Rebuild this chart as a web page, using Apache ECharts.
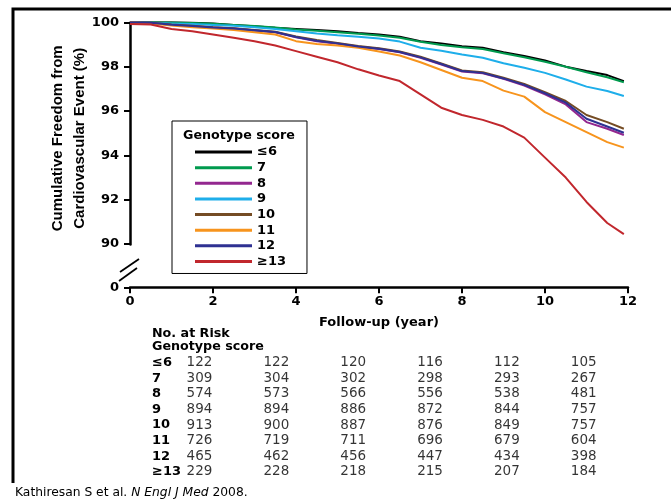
<!DOCTYPE html>
<html><head><meta charset="utf-8">
<script src="https://cdn.jsdelivr.net/npm/echarts@6/dist/echarts.min.js"></script>
<style>html,body{margin:0;padding:0;background:#fff}#c{width:671px;height:499px}</style>
</head><body><div id="c"></div>
<script>
// ---- data ----
const years = [0,0.5,1,1.5,2,2.5,3,3.5,4,4.5,5,5.5,6,6.5,7,7.5,8,8.5,9,9.5,10,10.5,11,11.5,11.9];
const groups = ['≤6','7','8','9','10','11','12','≥13'];
const colors = ['#000000','#009a4e','#93278f','#1eaeea','#754c24','#f7941d','#2e3192','#c1272d'];
const surv_le6 = [100,100,100,99.98,99.95,99.88,99.82,99.75,99.7,99.65,99.6,99.52,99.45,99.35,99.15,99.05,98.92,98.85,98.65,98.48,98.28,98.0,97.8,97.62,97.35];
const surv_7   = [100,100,99.99,99.97,99.93,99.88,99.83,99.77,99.68,99.62,99.55,99.48,99.4,99.3,99.12,98.98,98.88,98.8,98.6,98.42,98.22,98.0,97.75,97.52,97.3];
const surv_8   = [100,99.98,99.88,99.82,99.77,99.72,99.63,99.55,99.32,99.15,99.03,98.9,98.8,98.65,98.4,98.1,97.78,97.7,97.45,97.15,96.75,96.3,95.5,95.2,94.92];
const surv_9   = [100,99.98,99.95,99.92,99.88,99.84,99.78,99.7,99.6,99.5,99.42,99.35,99.27,99.13,98.85,98.72,98.55,98.4,98.15,97.95,97.72,97.42,97.1,96.9,96.68];
const surv_10  = [100,99.98,99.9,99.84,99.78,99.73,99.65,99.57,99.36,99.2,99.07,98.93,98.83,98.68,98.45,98.15,97.83,97.75,97.5,97.22,96.85,96.45,95.82,95.5,95.2];
const surv_11  = [100,99.95,99.85,99.78,99.72,99.65,99.55,99.45,99.15,99.02,98.95,98.85,98.68,98.5,98.2,97.85,97.5,97.35,96.92,96.65,95.95,95.5,95.05,94.6,94.35];
const surv_12  = [100,99.98,99.89,99.83,99.77,99.72,99.64,99.56,99.34,99.17,99.05,98.91,98.81,98.66,98.42,98.12,97.8,97.72,97.47,97.18,96.8,96.38,95.65,95.3,95.02];
const surv_ge13= [99.92,99.9,99.7,99.6,99.45,99.3,99.15,98.95,98.7,98.45,98.2,97.88,97.6,97.35,96.75,96.15,95.82,95.6,95.3,94.8,93.9,93.0,91.9,90.95,90.45];
const curves = [surv_le6,surv_7,surv_8,surv_9,surv_10,surv_11,surv_12,surv_ge13];

const xTicks = [0,2,4,6,8,10,12];
const yTicks = [0,90,92,94,96,98,100];

const riskTimes = ['0','2','4','6','8','10'];
const risk_le6 = [122,122,120,116,112,105];
const risk_7   = [309,304,302,298,293,267];
const risk_8   = [574,573,566,556,538,481];
const risk_9   = [894,894,886,872,844,757];
const risk_10  = [913,900,887,876,849,757];
const risk_11  = [726,719,711,696,679,604];
const risk_12  = [465,462,456,447,434,398];
const risk_ge13= [229,228,218,215,207,184];
const riskRows = [risk_le6,risk_7,risk_8,risk_9,risk_10,risk_11,risk_12,risk_ge13];

// ---- chart ----
const FF = 'DejaVu Sans';
const chart = echarts.init(document.getElementById('c'), null, {renderer:'canvas'});

const lineSeries = groups.map((g,i)=>({
  type:'line', name:g, xAxisIndex:0, yAxisIndex:0,
  data: years.map((x,j)=>[x, curves[i][j]]),
  symbol:'none', showSymbol:false,
  lineStyle:{width:2, color:colors[i]}, itemStyle:{color:colors[i]},
  z: 3
}));

const tableData = [];
riskRows.forEach((row,r)=>row.forEach((v,c)=>tableData.push([c, r, v])));

chart.setOption({
  animation:false,
  backgroundColor:'#fff',
  grid:[
    {left:130, right:43, top:22.3, bottom:211.7},
    {left:199.5, right:87.3, top:354.9, height:124.8}
  ],
  xAxis:[
    {type:'value', gridIndex:0, min:0, max:12, interval:2,
     axisLine:{lineStyle:{color:'#000', width:2.5}},
     axisTick:{show:true, length:6, lineStyle:{color:'#000', width:2}},
     axisLabel:{color:'#000', fontFamily:FF, fontWeight:'bold', fontSize:13, margin:8,
       formatter:v=> xTicks.includes(v) ? String(v) : ''},
     splitLine:{show:false},
     name:'Follow-up (year)', nameLocation:'middle', nameGap:29,
     nameTextStyle:{color:'#000', fontFamily:FF, fontWeight:'bold', fontSize:13}
    },
    {type:'category', gridIndex:1, data:riskTimes, boundaryGap:false, show:false}
  ],
  yAxis:[
    {type:'value', gridIndex:0, min:0, max:100, interval:2,
     breaks:[{start:0, end:90, gap:'16.3%'}],
     breakArea:{show:false},
     axisLine:{show:true, lineStyle:{color:'#000', width:2.5}},
     axisTick:{show:true, length:6, lineStyle:{color:'#000', width:2}},
     axisLabel:{color:'#000', fontFamily:FF, fontWeight:'bold', fontSize:13, margin:11,
       formatter:v=> yTicks.includes(v) ? String(v) : ''},
     splitLine:{show:false},
     name:'Cumulative Freedom from\nCardiovascular Event (%)', nameLocation:'middle', nameGap:39,
     nameMoveOverlap:false,
     nameTextStyle:{color:'#000', fontFamily:'Liberation Sans', fontWeight:'bold', fontSize:15, lineHeight:22, padding:[0,0,0,33]}
    },
    {type:'category', gridIndex:1, data:groups, inverse:true,
     axisLine:{show:false}, axisTick:{show:false}, splitLine:{show:false},
     axisLabel:{interval:0, align:'left', margin:47.5, color:'#000', fontFamily:FF, fontWeight:'bold', fontSize:13}
    }
  ],
  legend:{
    data:groups, orient:'vertical', left:172, top:121,
    icon:'rect', itemWidth:57, itemHeight:3, itemGap:1.64,
    borderColor:'#000', borderWidth:1, padding:[24,21,5,23],
    textStyle:{color:'#000', fontFamily:FF, fontWeight:'bold', fontSize:13, lineHeight:14},
    selectedMode:false
  },
  title:[
    {text:'Genotype score', left:183, top:129, padding:0,
     textStyle:{color:'#000', fontFamily:FF, fontWeight:'bold', fontSize:12.7, lineHeight:14}},
    {text:'No. at Risk', left:152, top:327, padding:0,
     textStyle:{color:'#000', fontFamily:FF, fontWeight:'bold', fontSize:12.7, lineHeight:14}},
    {text:'Genotype score', left:152, top:340, padding:0,
     textStyle:{color:'#000', fontFamily:FF, fontWeight:'bold', fontSize:12.7, lineHeight:14}},
    {text:'Kathiresan S et al. {i|N Engl J Med} 2008.', left:15, top:486, padding:0,
     textStyle:{color:'#000', fontFamily:FF, fontWeight:'normal', fontSize:12.3, lineHeight:14,
       rich:{i:{fontStyle:'italic', fontFamily:FF, fontSize:12.3, color:'#000'}}}}
  ],
  graphic:[
    {type:'polyline', shape:{points:[[13,483],[13,9],[671,9]]}, style:{stroke:'#000', lineWidth:3, fill:null}, z:10},
    {type:'rect', shape:{x:126, y:265, width:8, height:11}, style:{fill:'#fff'}, z:10},
    {type:'line', shape:{x1:120, y1:272, x2:139, y2:259}, style:{stroke:'#000', lineWidth:1.8}, z:11},
    {type:'line', shape:{x1:119, y1:281, x2:137, y2:268}, style:{stroke:'#000', lineWidth:1.8}, z:11}
  ],
  series: lineSeries.concat([{
    type:'scatter', name:'No. at Risk', xAxisIndex:1, yAxisIndex:1,
    data:tableData, symbolSize:1, itemStyle:{color:'rgba(0,0,0,0)'},
    label:{show:true, position:'inside', formatter:p=>String(p.value[2]),
      color:'#000', fontFamily:FF, fontSize:13.5}
  }])
});
</script></body></html>
